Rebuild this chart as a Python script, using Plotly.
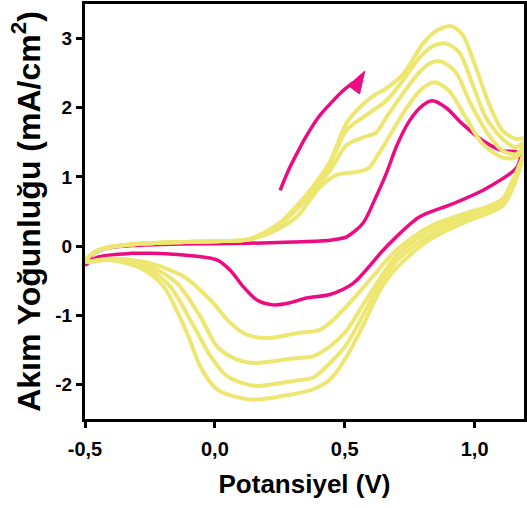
import plotly.graph_objects as go

# ---------------- data ----------------
# first cycle (pink)
pink_fwd_x = [-0.5, -0.46, -0.4, -0.3, -0.13, 0.0, 0.123, 0.3, 0.443, 0.507, 0.57, 0.62, 0.66, 0.70, 0.749, 0.799, 0.838, 0.89, 0.952, 1.029, 1.106, 1.163, 1.175]
pink_fwd_y = [-0.26, -0.09, -0.02, 0.01, 0.03, 0.035, 0.04, 0.06, 0.086, 0.134, 0.33, 0.71, 1.05, 1.45, 1.81, 2.03, 2.10, 2.0, 1.77, 1.53, 1.38, 1.36, 1.3]
pink_rev_x = [1.163, 1.043, 0.915, 0.787, 0.66, 0.532, 0.443, 0.353, 0.289, 0.225, 0.162, 0.110, 0.059, 0.008, -0.12, -0.247, -0.324, -0.451, -0.5]
pink_rev_y = [1.14, 0.83, 0.61, 0.42, -0.01, -0.54, -0.70, -0.75, -0.82, -0.85, -0.78, -0.59, -0.35, -0.20, -0.13, -0.105, -0.105, -0.16, -0.28]

# later cycles (yellow), common start of the anodic scan
yel_start_x = [-0.5, -0.46, -0.4, -0.3, -0.15, 0.0, 0.12]
yel_start_y = [-0.22, -0.08, -0.01, 0.03, 0.055, 0.07, 0.09]

# cycle A (smallest)
a_fwd_x = [0.187, 0.251, 0.315, 0.404, 0.468, 0.52, 0.57, 0.596, 0.621, 0.647, 0.723, 0.787, 0.845, 0.902, 0.966, 1.030, 1.107, 1.158, 1.195]
a_fwd_y = [0.15, 0.26, 0.42, 0.85, 1.03, 1.06, 1.09, 1.14, 1.28, 1.43, 1.91, 2.24, 2.37, 2.24, 1.86, 1.48, 1.28, 1.28, 1.42]
a_rev_x = [1.17, 1.14, 1.107, 1.043, 0.979, 0.826, 0.698, 0.608, 0.519, 0.443, 0.404, 0.315, 0.2, 0.123, 0.059, -0.017, -0.12, -0.247, -0.4, -0.5]
a_rev_y = [1.15, 0.9, 0.68, 0.56, 0.49, 0.28, -0.06, -0.44, -0.82, -1.11, -1.21, -1.26, -1.33, -1.28, -1.11, -0.78, -0.44, -0.25, -0.18, -0.22]

# cycle B
b_fwd_x = [0.187, 0.251, 0.315, 0.379, 0.443, 0.507, 0.57, 0.621, 0.66, 0.723, 0.787, 0.826, 0.870, 0.928, 0.979, 1.043, 1.107, 1.158, 1.195]
b_fwd_y = [0.17, 0.31, 0.53, 0.80, 1.09, 1.46, 1.57, 1.64, 1.86, 2.20, 2.51, 2.64, 2.67, 2.51, 2.10, 1.67, 1.38, 1.33, 1.45]
b_rev_x = [1.17, 1.14, 1.107, 1.043, 0.979, 0.826, 0.698, 0.634, 0.57, 0.507, 0.443, 0.379, 0.289, 0.149, 0.072, 0.008, -0.056, -0.145, -0.247, -0.4, -0.5]
b_rev_y = [1.12, 0.85, 0.64, 0.53, 0.45, 0.22, -0.14, -0.48, -0.85, -1.22, -1.45, -1.59, -1.63, -1.69, -1.62, -1.45, -1.02, -0.54, -0.30, -0.19, -0.22]

# cycle C
c_fwd_x = [0.187, 0.251, 0.315, 0.379, 0.443, 0.507, 0.570, 0.596, 0.660, 0.723, 0.787, 0.838, 0.890, 0.941, 0.992, 1.043, 1.107, 1.158, 1.195]
c_fwd_y = [0.18, 0.33, 0.57, 0.85, 1.19, 1.68, 1.86, 1.93, 2.10, 2.39, 2.72, 2.89, 2.93, 2.80, 2.34, 1.86, 1.55, 1.43, 1.5]
c_rev_x = [1.17, 1.14, 1.107, 1.043, 0.979, 0.826, 0.698, 0.634, 0.57, 0.507, 0.443, 0.379, 0.302, 0.149, 0.047, -0.017, -0.081, -0.171, -0.26, -0.4, -0.5]
c_rev_y = [1.1, 0.82, 0.61, 0.50, 0.41, 0.15, -0.22, -0.56, -1.0, -1.42, -1.69, -1.90, -1.95, -2.02, -1.88, -1.59, -1.16, -0.59, -0.32, -0.2, -0.22]

# cycle D (largest)
d_fwd_x = [0.187, 0.251, 0.315, 0.379, 0.443, 0.507, 0.570, 0.621, 0.647, 0.723, 0.800, 0.851, 0.909, 0.953, 1.005, 1.056, 1.107, 1.158, 1.195]
d_fwd_y = [0.19, 0.34, 0.58, 0.87, 1.22, 1.78, 2.05, 2.20, 2.25, 2.48, 2.92, 3.11, 3.18, 3.06, 2.58, 2.05, 1.67, 1.55, 1.55]
d_rev_x = [1.17, 1.14, 1.107, 1.043, 0.979, 0.826, 0.698, 0.634, 0.57, 0.507, 0.443, 0.379, 0.302, 0.136, 0.008, -0.056, -0.107, -0.196, -0.28, -0.4, -0.5]
d_rev_y = [1.08, 0.78, 0.58, 0.46, 0.37, 0.09, -0.32, -0.65, -1.15, -1.60, -1.93, -2.07, -2.14, -2.22, -2.07, -1.74, -1.26, -0.59, -0.33, -0.2, -0.22]

# scan direction arrow
arrow_x = [0.251, 0.283, 0.315, 0.353, 0.398, 0.443, 0.493, 0.532]
arrow_y = [0.806, 1.094, 1.334, 1.597, 1.860, 2.053, 2.245, 2.364]
arrow_head_x = [0.577, 0.513, 0.557, 0.577]
arrow_head_y = [2.53, 2.32, 2.20, 2.53]

x_ticks = [-0.5, 0.0, 0.5, 1.0]
x_tick_labels = ["-0,5", "0,0", "0,5", "1,0"]
y_ticks = [-2, -1, 0, 1, 2, 3]
y_tick_labels = ["-2", "-1", "0", "1", "2", "3"]

PINK = "#EC0B82"
YELLOW = "#EDE671"
FONT = "Liberation Sans, Arial, sans-serif"

fig = go.Figure()
fig.add_trace(go.Scatter(x=pink_fwd_x + pink_rev_x, y=pink_fwd_y + pink_rev_y, mode="lines",
                         line=dict(color=PINK, width=3.5, shape="spline", smoothing=0.8)))
for fx, fy, rx, ry in [(a_fwd_x, a_fwd_y, a_rev_x, a_rev_y), (b_fwd_x, b_fwd_y, b_rev_x, b_rev_y),
                       (c_fwd_x, c_fwd_y, c_rev_x, c_rev_y), (d_fwd_x, d_fwd_y, d_rev_x, d_rev_y)]:
    fig.add_trace(go.Scatter(x=yel_start_x + fx + rx, y=yel_start_y + fy + ry, mode="lines",
                             line=dict(color=YELLOW, width=4, shape="spline", smoothing=0.8)))
fig.add_trace(go.Scatter(x=arrow_x, y=arrow_y, mode="lines",
                         line=dict(color=PINK, width=3.5, shape="spline", smoothing=1.0)))
fig.add_trace(go.Scatter(x=arrow_head_x, y=arrow_head_y, mode="lines", fill="toself",
                         fillcolor=PINK, line=dict(color=PINK, width=1)))

tickfont = dict(family=FONT, size=20, color="black", weight="bold")
fig.update_layout(
    width=527, height=508,
    margin=dict(l=85, r=3, t=4, b=89),
    paper_bgcolor="white", plot_bgcolor="white",
    showlegend=False,
    xaxis=dict(range=[-0.5, 1.19], tickvals=x_ticks, ticktext=x_tick_labels, automargin=False,
               ticks="outside", ticklen=6, tickwidth=3, tickcolor="black", ticklabelstandoff=4,
               showline=True, linewidth=3, linecolor="black", mirror=True,
               showgrid=False, zeroline=False, tickfont=tickfont,
               title=dict(text="Potansiyel (V)", standoff=16,
                          font=dict(family=FONT, size=26, color="black", weight="bold"))),
    yaxis=dict(range=[-2.5, 3.5], tickvals=y_ticks, ticktext=y_tick_labels, automargin=False,
               ticks="outside", ticklen=6, tickwidth=3, tickcolor="black",
               showline=True, linewidth=3, linecolor="black", mirror=True,
               showgrid=False, zeroline=False, tickfont=dict(tickfont, size=19),
               title=dict(text="Akım Yoğunluğu (mA/cm<sup>2</sup>)", standoff=6,
                          font=dict(family=FONT, size=32, color="black", weight="bold"))),
)
fig.write_html("out.html", config={"displayModeBar": False},
               post_script="document.body.style.margin='0';")
